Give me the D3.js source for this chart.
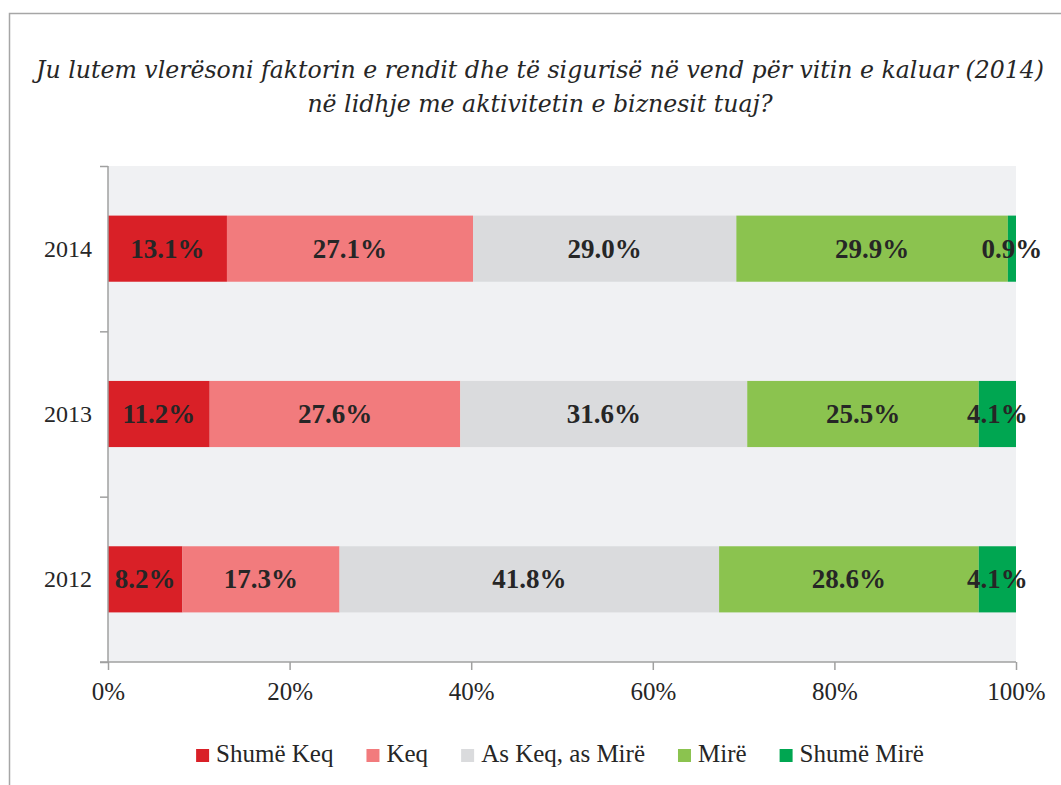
<!DOCTYPE html>
<html lang="sq">
<head>
<meta charset="UTF-8" />
<title>Faktori i rendit dhe sigurisë</title>
<script src="https://cdn.jsdelivr.net/npm/d3@7/dist/d3.min.js"></script>
<style>
  body { margin: 0; background: #fff; }
  svg text { font-family: "Liberation Serif", "Times New Roman", serif; fill: #262626; }
</style>
</head>
<body>
<svg id="chart" width="1061" height="785"></svg>
<script>
// të dhënat
const years = ['2014', '2013', '2012'];
const categories = ['Shumë Keq', 'Keq', 'As Keq, as Mirë', 'Mirë', 'Shumë Mirë'];
const colors = ['#d92027', '#f27b7d', '#dadbdd', '#8bc34f', '#00a651'];
const shumeKeq = [13.1, 11.2, 8.2];
const keq = [27.1, 27.6, 17.3];
const asKeqAsMire = [29.0, 31.6, 41.8];
const mire = [29.9, 25.5, 28.6];
const shumeMire = [0.9, 4.1, 4.1];
const xTicks = [0, 20, 40, 60, 80, 100];
const titleLines = [
  'Ju lutem vlerësoni faktorin e rendit dhe të sigurisë në vend për vitin e kaluar (2014)',
  'në lidhje me aktivitetin e biznesit tuaj?'
];

const series = [shumeKeq, keq, asKeqAsMire, mire, shumeMire];

const svg = d3.select('#chart');
const margin = { left: 108, right: 1016, top: 166, bottom: 662 };

// korniza
svg.append('path')
  .attr('d', 'M9.5,785 L9.5,13.5 L1061,13.5')
  .attr('fill', 'none')
  .attr('stroke', '#a6a6a6')
  .attr('stroke-width', 1.5);

// titulli
svg.append('text')
  .attr('text-anchor', 'middle')
  .style('font-family', '"DejaVu Serif", serif')
  .style('font-style', 'italic')
  .style('font-size', '23.6px')
  .selectAll('tspan')
  .data(titleLines)
  .join('tspan')
  .attr('x', 540)
  .attr('y', (d, i) => 78 + i * 34)
  .text(d => d);

// sfondi i grafikut
svg.append('rect')
  .attr('x', margin.left)
  .attr('y', margin.top)
  .attr('width', margin.right - margin.left)
  .attr('height', margin.bottom - margin.top)
  .attr('fill', '#f0f1f3');

const x = d3.scaleLinear().domain([0, 100]).range([margin.left, margin.right]);
const y = d3.scaleBand()
  .domain(years)
  .range([margin.top, margin.bottom])
  .paddingInner(0.6)
  .paddingOuter(0.3);

// të dhënat e grumbulluara
const rows = years.map((yr, i) => {
  const row = { year: yr };
  categories.forEach((c, k) => { row[c] = series[k][i]; });
  return row;
});
const stacked = d3.stack().keys(categories)(rows);

const layers = svg.append('g')
  .selectAll('g')
  .data(stacked)
  .join('g')
  .attr('fill', (d, i) => colors[i]);

layers.selectAll('rect')
  .data(d => d)
  .join('rect')
  .attr('x', d => x(d[0]))
  .attr('y', d => y(d.data.year))
  .attr('width', d => x(d[1]) - x(d[0]))
  .attr('height', y.bandwidth());

layers.selectAll('text')
  .data(d => d.map(v => Object.assign({}, v, { key: d.key })))
  .join('text')
  .attr('x', d => (x(d[0]) + x(d[1])) / 2)
  .attr('y', d => y(d.data.year) + y.bandwidth() / 2 + 9)
  .attr('text-anchor', 'middle')
  .style('font-weight', 'bold')
  .style('font-size', '27px')
  .text(d => d.data[d.key].toFixed(1) + '%');

// boshti y: vijat ndarëse
const yEdges = d3.scaleLinear().domain([0, 3]).range([margin.bottom, margin.top]);
const yAxis = svg.append('g')
  .attr('transform', `translate(${margin.left},0)`)
  .call(d3.axisLeft(yEdges).ticks(3).tickSize(8).tickFormat(''));
yAxis.select('.domain').remove();
yAxis.append('line')
  .attr('y1', margin.top).attr('y2', margin.bottom);
yAxis.selectAll('line')
  .attr('stroke', '#a0a0a0')
  .attr('stroke-width', 1.5);

// emrat e viteve
svg.append('g')
  .selectAll('text')
  .data(years)
  .join('text')
  .attr('x', 92)
  .attr('y', d => y(d) + y.bandwidth() / 2 + 8)
  .attr('text-anchor', 'end')
  .style('font-size', '24px')
  .text(d => d);

// boshti x
const xAxis = svg.append('g')
  .attr('transform', `translate(0,${margin.bottom})`)
  .call(d3.axisBottom(x).tickValues(xTicks).tickSize(8).tickFormat(d => d + '%'));
xAxis.select('.domain').remove();
xAxis.append('line')
  .attr('x1', margin.left - 8).attr('x2', margin.right);
xAxis.selectAll('line')
  .attr('stroke', '#a0a0a0')
  .attr('stroke-width', 1.5);
xAxis.selectAll('.tick text')
  .attr('y', 20)
  .attr('dy', '0.71em')
  .style('font-size', '25px')
  .attr('fill', '#262626');

// legjenda
const legend = svg.append('g');
const items = legend.selectAll('g')
  .data(categories)
  .join('g');
items.append('rect')
  .attr('width', 13)
  .attr('height', 13)
  .attr('y', -13)
  .attr('fill', (d, i) => colors[i]);
items.append('text')
  .attr('x', 20)
  .style('font-size', '25px')
  .text(d => d);
let pos = 0;
items.each(function() {
  const w = this.querySelector('text').getComputedTextLength();
  d3.select(this).attr('transform', `translate(${pos},0)`);
  pos += 20 + w + 33;
});
const total = pos - 33;
legend.attr('transform', `translate(${560 - total / 2},762)`);
</script>
</body>
</html>
